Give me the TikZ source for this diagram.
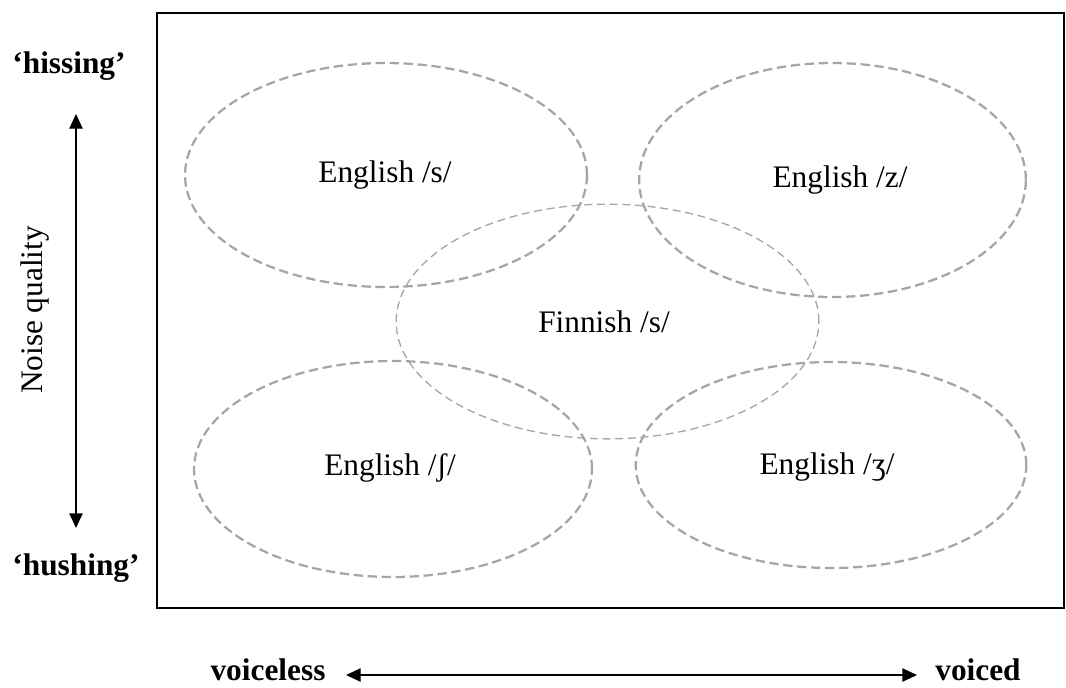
\documentclass[tikz,border=0pt]{standalone}
\usepackage{fontspec}
\setmainfont{Liberation Serif}
\usetikzlibrary{shapes.geometric,arrows.meta}
\definecolor{ellgray}{HTML}{A6A6A6}
\tikzset{
  ell/.style={draw=ellgray, ellipse, inner sep=0pt, line width=1.7pt, dash pattern=on 7pt off 3.5pt},
  ellthin/.style={draw=ellgray, ellipse, inner sep=0pt, line width=1pt, dash pattern=on 6pt off 3.5pt},
  lab/.style={font=\fontsize{23.5}{28}\selectfont, inner sep=0pt},
  blab/.style={font=\fontsize{23.5}{28}\selectfont\bfseries, inner sep=0pt},
  arr/.style={line width=1pt, {Triangle[length=11pt,width=10pt]}-{Triangle[length=11pt,width=10pt]}},
}
\begin{document}
\begin{tikzpicture}[x=0.75pt,y=-0.75pt]
\useasboundingbox (0,0) rectangle (1066,687);
\draw[line width=2.2pt] (157,13) rectangle (1064,608);
% ellipses (sizes in pt = px * 0.75)
\node[ell, minimum width=301.5pt, minimum height=168pt] (es) at (386,175) {};
\node[ell, minimum width=290pt, minimum height=175.5pt] (ez) at (832.5,180) {};
\node[ellthin, minimum width=317pt, minimum height=176pt] (fs) at (607.5,321.5) {};
\node[ell, minimum width=298.5pt, minimum height=162pt] (esh) at (393,469) {};
\node[ell, minimum width=293pt, minimum height=154.5pt] (ezh) at (831,465) {};
% labels
\node[lab] (tes) at (385,175) {English /s/};
\node[lab] (tez) at (840,180) {English /z/};
\node[lab] (tfs) at (604,322) {Finnish /s/};
\node[lab] (tesh) at (390,468) {English /ʃ/};
\node[lab] (tezh) at (827,467) {English /ʒ/};
% axis labels
\node[blab] (hiss) at (69,66) {‘hissing’};
\node[blab] (hush) at (76,568) {‘hushing’};
\node[lab, rotate=90] (noise) at (35,310) {Noise quality};
\node[blab, anchor=base] (vless) at (268,680) {voiceless};
\node[blab, anchor=base] (vced) at (978,680) {voiced};
% arrows
\coordinate (vtop) at (76,114);
\coordinate (vbot) at (76,528);
\draw[arr] (vtop) -- (vbot);
\coordinate (hleft) at (346,675);
\coordinate (hright) at (917,675);
\draw[arr] (hleft) -- (hright);
\end{tikzpicture}
\end{document}
